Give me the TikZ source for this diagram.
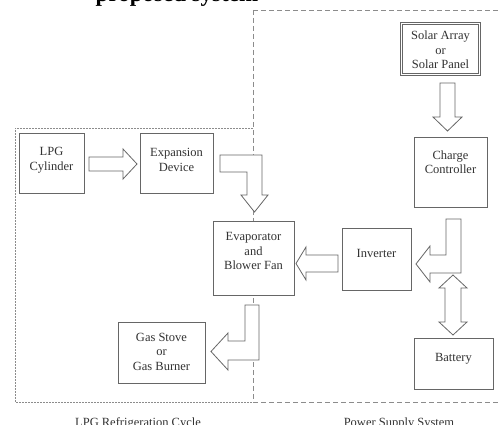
\documentclass[tikz,border=0pt]{standalone}
\usepackage{fontspec}
\setmainfont{Liberation Serif}
\begin{document}
\begin{tikzpicture}[x=1pt,y=-1pt,
  box/.style={draw=black!60,line width=0.8pt,fill=white,inner sep=0pt},
  txt/.style={align=center,text=black!80,font=\fontsize{12.5}{14.5}\selectfont,inner sep=0pt},
  blockarrow/.style={draw=black!60,line width=0.8pt,fill=white,line join=miter},
  zoneA/.style={draw=black!45,line width=0.7pt,dash pattern=on 2pt off 1pt},
  zoneB/.style={draw=black!45,line width=0.7pt,dash pattern=on 5pt off 3pt},
  zonelabel/.style={text=black!80,font=\fontsize{12.5}{14.5}\selectfont,anchor=base,inner sep=0pt}]
\useasboundingbox (0,0) rectangle (501,425);
\clip (0,0) rectangle (501,425);
\fill[white] (0,0) rectangle (501,425);
% cut-off heading text
\coordinate (headpos) at (177,1.5);
\node[font=\fontsize{23}{26}\selectfont\bfseries,inner sep=0pt,anchor=base] (head) at (headpos) {proposed system};
% zones
\draw[zoneB] (253,10) -- (510,10) (253,402) -- (510,402) (253,10) -- (253,402);
\draw[zoneA] (253,128) -- (15,128) -- (15,402) -- (253,402);
% block arrows
\draw[blockarrow] (89,157) -- (123,157) -- (123,149) -- (137,164) -- (123,179) -- (123,171) -- (89,171) -- cycle;
\draw[blockarrow] (220,155) -- (262,155) -- (262,195) -- (268,195) -- (254.5,212) -- (241,195) -- (247,195) -- (247,172) -- (220,172) -- cycle;
\draw[blockarrow] (338,255) -- (306,255) -- (306,247) -- (296,263.5) -- (306,280) -- (306,272) -- (338,272) -- cycle;
\draw[blockarrow] (446,219) -- (461,219) -- (461,273) -- (430,273) -- (430,282) -- (416,264) -- (430,246) -- (430,255) -- (446,255) -- cycle;
\draw[blockarrow] (445,288) -- (439,288) -- (453,275) -- (467,288) -- (461,288) -- (461,322) -- (467,322) -- (453,335) -- (439,322) -- (445,322) -- cycle;
\draw[blockarrow] (440,83) -- (455,83) -- (455,117) -- (462,117) -- (447.5,131) -- (433,117) -- (440,117) -- cycle;
\draw[blockarrow] (245,305) -- (259,305) -- (259,360) -- (228,360) -- (228,370) -- (211,351.5) -- (228,333) -- (228,341) -- (245,341) -- cycle;
% boxes
\node[box,minimum width=65,minimum height=60] (lpg) at (51.5,163) {};
\node[txt] at ([yshift=3]lpg.center) {LPG\\Cylinder};
\node[box,minimum width=73,minimum height=60] (exp) at (176.5,163) {};
\node[txt] at ([yshift=3]exp.center) {Expansion\\Device};
\node[box,minimum width=81,minimum height=74] (evap) at (253.5,258) {};
\node[txt] at ([yshift=7]evap.center) {Evaporator\\and\\Blower Fan};
\node[box,minimum width=87,minimum height=61] (gas) at (161.5,352.5) {};
\node[txt] at ([yshift=1]gas.center) {Gas Stove\\or\\Gas Burner};
\node[box,double=white,double distance=1.2pt,minimum width=78,minimum height=51] (solar) at (440.5,49) {};
\node[txt] at ([yshift=-1]solar.center) {Solar Array\\or\\Solar Panel};
\node[box,minimum width=73,minimum height=70] (charge) at (450.5,172) {};
\node[txt] at ([yshift=10]charge.center) {Charge\\Controller};
\node[box,minimum width=69,minimum height=62] (inv) at (376.5,259) {};
\node[txt] at ([yshift=6]inv.center) {Inverter};
\node[box,minimum width=79,minimum height=51] (bat) at (453.5,363.5) {};
\node[txt] at ([yshift=5]bat.center) {Battery};
% zone labels
\node[zonelabel] (lpgzone) at (138,426) {LPG Refrigeration Cycle};
\node[zonelabel] (powzone) at (399,426) {Power Supply System};
\end{tikzpicture}
\end{document}
